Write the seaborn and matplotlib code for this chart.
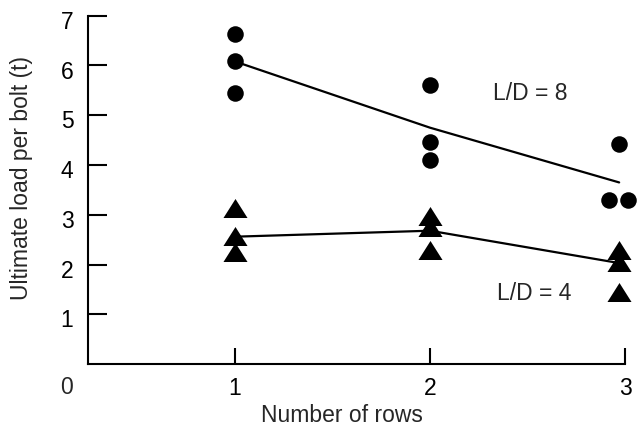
import matplotlib
matplotlib.use("Agg")
import matplotlib.pyplot as plt
import matplotlib.transforms as mtransforms
import seaborn as sns
import pandas as pd

# ---- data ----
ld8_rows = [1.0, 1.0, 1.0, 2.0, 2.0, 2.0, 2.97, 2.92, 3.015]
ld8_load = [6.63, 6.08, 5.44, 5.61, 4.47, 4.11, 4.42, 3.30, 3.30]

ld4_rows = [1.0, 1.0, 1.0, 2.0, 2.0, 2.0, 2.97, 2.97, 2.97]
ld4_load = [3.14, 2.58, 2.25, 2.97, 2.75, 2.29, 2.30, 2.05, 1.45]

fit8_rows = [1.0, 2.0, 2.97]
fit8_load = [6.08, 4.75, 3.65]
fit4_rows = [1.0, 2.0, 2.97]
fit4_load = [2.56, 2.68, 2.03]

x_ticks = [1, 2, 3]
y_ticks = [1, 2, 3, 4, 5, 6, 7]
x_label = "Number of rows"
y_label = "Ultimate load per bolt (t)"
label8 = "L/D = 8"
label4 = "L/D = 4"

FS = 16.5

sns.set_style("ticks")
plt.rcParams["font.family"] = ["Liberation Sans", "DejaVu Sans"]
plt.rcParams["font.size"] = FS

fig = plt.figure(figsize=(6.38, 4.26), dpi=100)
ax = fig.add_axes([88 / 638, (426 - 364.1) / 426, (625 - 88) / 638, (364.1 - 15.7) / 426])

pts8 = pd.DataFrame({"rows": ld8_rows, "load": ld8_load})
pts4 = pd.DataFrame({"rows": ld4_rows, "load": ld4_load})
fit8 = pd.DataFrame({"rows": fit8_rows, "load": fit8_load})
fit4 = pd.DataFrame({"rows": fit4_rows, "load": fit4_load})

sns.lineplot(data=fit8, x="rows", y="load", ax=ax, color="black", lw=1.6, sort=False)
sns.lineplot(data=fit4, x="rows", y="load", ax=ax, color="black", lw=1.6, sort=False)

tri = [(-1, -0.79), (1, -0.79), (0, 0.79)]
sns.scatterplot(data=pts8, x="rows", y="load", ax=ax, marker="o", s=142,
                color="black", linewidth=0, clip_on=False, zorder=3)
sns.scatterplot(data=pts4, x="rows", y="load", ax=ax, marker=tri, s=300,
                color="black", linewidth=0, clip_on=False, zorder=3)

ax.set_xlim(0.246, 3.0)
ax.set_ylim(0, 7)
ax.set_xticks(x_ticks)
ax.set_yticks(y_ticks)
ax.set_xticklabels([str(t) for t in x_ticks])
ax.set_yticklabels([str(t) for t in y_ticks])

for side in ["top", "right"]:
    ax.spines[side].set_visible(False)
for side in ["left", "bottom"]:
    ax.spines[side].set_linewidth(1.5)
    ax.spines[side].set_color("black")

ax.tick_params(axis="y", direction="in", length=13.5, width=1.5, pad=10.5,
               labelsize=FS, colors="black")
ax.tick_params(axis="x", direction="in", length=11.5, width=1.5, pad=9.0,
               labelsize=FS, colors="black")

ax.set_xlabel(x_label, fontsize=FS)
ax.set_ylabel(y_label, fontsize=FS)
ax.xaxis.label.set_va("baseline")
ax.xaxis.set_label_coords(0.472, -(422.3 - 364.1) / 348.4)
ax.yaxis.label.set_va("baseline")
ax.yaxis.set_label_coords((28.3 - 88) / 537, (364.1 - 177.5) / 348.4)

ax.annotate("0", xy=(0, 0), xycoords="axes fraction", xytext=(-11, -21.5),
            textcoords="offset points", ha="right", va="baseline", fontsize=FS)

ax.text(2.514, 5.31, label8, ha="center", va="baseline", fontsize=FS)
ax.text(2.532, 1.29, label4, ha="center", va="baseline", fontsize=FS)

ax.grid(False)

# nudge y tick labels slightly downward, as in the reference
fig.canvas.draw()
shift = mtransforms.ScaledTranslation(0, -3.0 / 72, fig.dpi_scale_trans)
for tick in ax.yaxis.get_major_ticks():
    tick.label1.set_transform(tick.label1.get_transform() + shift)

fig.savefig("out.png", dpi=100, facecolor="white")
